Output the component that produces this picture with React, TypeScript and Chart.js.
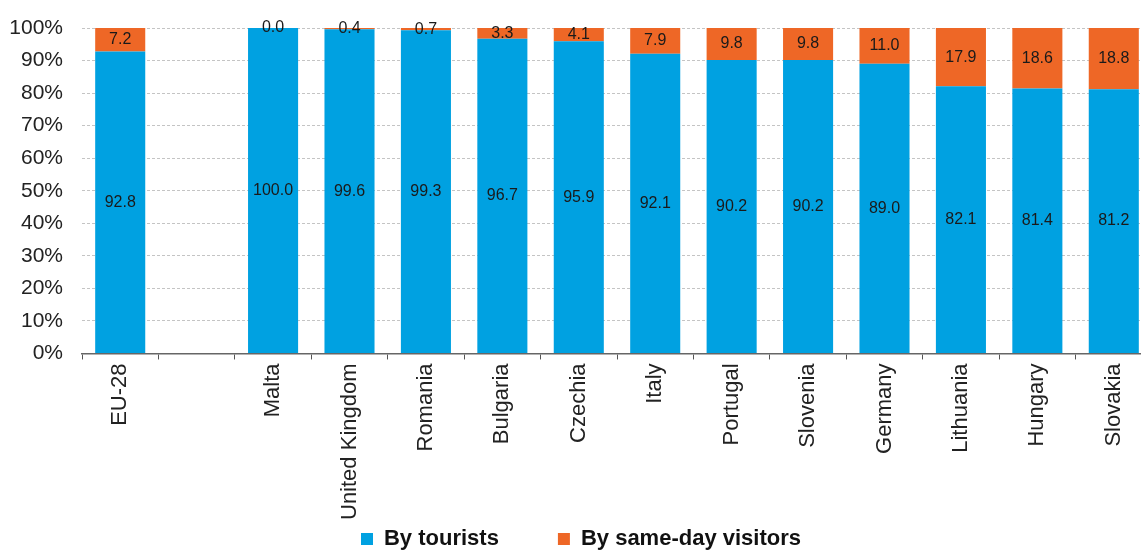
import React, { useEffect, useRef } from "react";
import { Chart, registerables } from "chart.js";

Chart.register(...registerables);

const categories = ["EU-28", "", "Malta", "United Kingdom", "Romania", "Bulgaria", "Czechia", "Italy", "Portugal", "Slovenia", "Germany", "Lithuania", "Hungary", "Slovakia"];
const byTourists: (number | null)[] = [92.8, null, 100.0, 99.6, 99.3, 96.7, 95.9, 92.1, 90.2, 90.2, 89.0, 82.1, 81.4, 81.2];
const bySameDay: (number | null)[] = [7.2, null, 0.0, 0.4, 0.7, 3.3, 4.1, 7.9, 9.8, 9.8, 11.0, 17.9, 18.6, 18.8];
const yTicks = [0, 10, 20, 30, 40, 50, 60, 70, 80, 90, 100];
const seriesNames = ["By tourists", "By same-day visitors"];

const FONT = "'Liberation Sans', Arial, sans-serif";
const CANVAS_W = 1153;

const valueLabels = {
  id: "valueLabels",
  afterDatasetsDraw(chart: any) {
    const ctx = chart.ctx;
    ctx.save();
    ctx.font = `16px ${FONT}`;
    ctx.fillStyle = "#1a1a1a";
    ctx.textAlign = "center";
    ctx.textBaseline = "middle";
    chart.data.datasets.forEach((ds: any, di: number) => {
      const meta = chart.getDatasetMeta(di);
      meta.data.forEach((el: any, i: number) => {
        const v = ds.data[i];
        if (v === null || v === undefined) return;
        const { x, y, base } = el.getProps(["x", "y", "base"], true);
        ctx.fillText(v.toFixed(1), x, (y + base) / 2);
      });
    });
    ctx.restore();
  },
};

export default function App() {
  const ref = useRef<HTMLCanvasElement>(null);
  useEffect(() => {
    document.body.style.margin = "0";
    const chart = new Chart(ref.current!, {
      type: "bar",
      data: {
        labels: categories,
        datasets: [
          { label: seriesNames[0], data: byTourists, backgroundColor: "#00A1E1", categoryPercentage: 1, barPercentage: 0.655 },
          { label: seriesNames[1], data: bySameDay, backgroundColor: "#EE6726", categoryPercentage: 1, barPercentage: 0.655 },
        ],
      },
      options: {
        animation: false,
        responsive: false,
        layout: { padding: { top: 28, right: 1, left: 10, bottom: -10 } },
        plugins: {
          tooltip: { enabled: false },
          legend: {
            position: "bottom",
            labels: {
              boxWidth: 12,
              boxHeight: 12,
              padding: 4,
              color: "#111",
              font: { family: FONT, size: 22, weight: "bold" },
              generateLabels: (chart: any) => {
                const items = Chart.defaults.plugins.legend.labels.generateLabels(chart);
                items.forEach((it: any, i: number) => {
                  it.lineWidth = 0;
                  if (i === 0) it.text = it.text + "\u00a0".repeat(9);
                });
                return items;
              },
            },
          },
        },
        scales: {
          x: {
            stacked: true,
            grid: { display: true, offset: true, drawOnChartArea: false, drawTicks: true, tickLength: 6, color: "#555" },
            border: { display: true, color: "#666", width: 1.5 },
            ticks: {
              minRotation: 90,
              maxRotation: 90,
              autoSkip: false,
              color: "#222",
              padding: 4,
              font: { family: FONT, size: 22 },
            },
          },
          y: {
            stacked: true,
            min: 0,
            max: 100,
            afterBuildTicks: (axis: any) => {
              axis.ticks = yTicks.map((v) => ({ value: v }));
            },
            afterFit: (axis: any) => {
              axis.width = 72;
              axis.paddingTop = 0;
            },
            grid: { color: "#c4c4c4", drawTicks: false },
            border: { display: false, dash: [3, 2] },
            ticks: {
              color: "#222",
              padding: 19,
              font: { family: FONT, size: 21, lineHeight: 1 },
              callback: (v: any) => `${v}%`,
            },
          },
        },
      },
      plugins: [valueLabels],
    });
    return () => chart.destroy();
  }, []);
  return (
    <div style={{ width: 1141, height: 550, overflow: "hidden", position: "relative" }}>
      <canvas ref={ref} width={CANVAS_W} height={550} style={{ width: CANVAS_W, height: 550, display: "block" }} />
    </div>
  );
}
